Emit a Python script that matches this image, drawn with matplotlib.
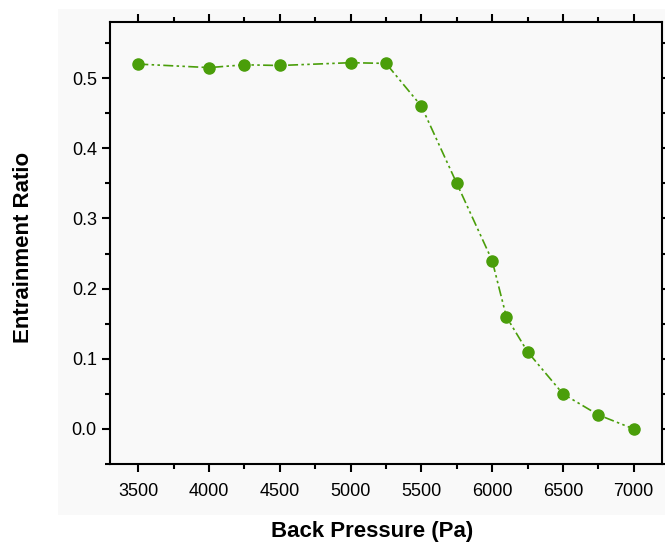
import matplotlib
matplotlib.use("Agg")
import matplotlib.pyplot as plt
from matplotlib.patches import Rectangle
from matplotlib.ticker import MultipleLocator

back_pressure = [3500, 4000, 4250, 4500, 5000, 5250, 5500, 5750, 6000, 6100, 6250, 6500, 6750, 7000]
entrainment_ratio = [0.520, 0.515, 0.519, 0.518, 0.522, 0.521, 0.460, 0.350, 0.240, 0.160, 0.110, 0.050, 0.020, 0.000]

plt.rcParams['font.family'] = ['Liberation Sans', 'DejaVu Sans']

fig = plt.figure(figsize=(6.65, 5.44), dpi=100)
fig.patches.append(Rectangle((58 / 665, 1 - 515 / 544), 1 - 58 / 665, (515 - 9) / 544,
                             transform=fig.transFigure, facecolor='#f9f9f9', edgecolor='none', zorder=-5))
ax = fig.add_axes([110 / 665, 1 - 464 / 544, (662 - 110) / 665, (464 - 22) / 544])
ax.set_facecolor('#f9f9f9')
ax.set_zorder(2)

green = '#4a9e0a'
ax.plot(back_pressure, entrainment_ratio, color=green, linestyle=(0, (6, 2, 1.5, 2, 1.5, 2)),
        linewidth=1.2, marker='o', markersize=8, markeredgecolor=green, markerfacecolor=green,
        clip_on=False)

ax.set_xlim(3300, 7200)
ax.set_ylim(-0.05, 0.58)
ax.xaxis.set_major_locator(MultipleLocator(500))
ax.xaxis.set_minor_locator(MultipleLocator(250))
ax.yaxis.set_major_locator(MultipleLocator(0.1))
ax.yaxis.set_minor_locator(MultipleLocator(0.05))
ax.yaxis.set_major_formatter(matplotlib.ticker.FormatStrFormatter('%.1f'))

ax.tick_params(which='both', direction='out', top=True, right=True, width=1.5, labelsize=13)
ax.tick_params(which='major', length=6)
ax.tick_params(which='minor', length=3.5)
ax.tick_params(axis='x', pad=8)
for s in ax.spines.values():
    s.set_linewidth(1.5)

ax.set_xlabel('Back Pressure (Pa)', fontsize=16, fontweight='bold')
ax.set_ylabel('Entrainment Ratio', fontsize=16, fontweight='bold')
ax.xaxis.set_label_coords(0.475, -0.13)
ax.yaxis.set_label_coords(-0.137, 0.489)

fig.savefig('out.png', dpi=100)
